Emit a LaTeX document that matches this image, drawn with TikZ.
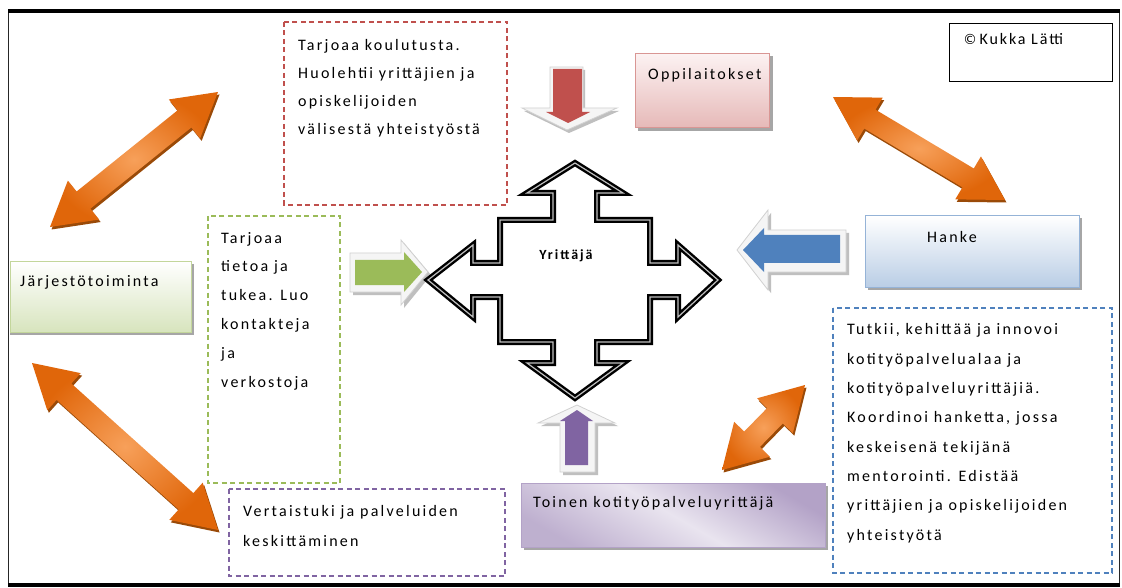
\documentclass[tikz,border=0pt]{standalone}
\usepackage{fontspec}
\setmainfont{Carlito}[LetterSpace=14]
\usetikzlibrary{calc}
\definecolor{redD}{HTML}{C0504D}
\definecolor{greenD}{HTML}{9BBB59}
\definecolor{purpleD}{HTML}{8064A2}
\definecolor{blueD}{HTML}{4F81BD}
\definecolor{orDark}{HTML}{E0660A}
\definecolor{orLight}{HTML}{F7A05A}
\definecolor{orShadow}{HTML}{9A4A08}
\definecolor{pinkTop}{HTML}{FCF2F2}
\definecolor{pinkBot}{HTML}{E6B9B8}
\definecolor{pinkBorder}{HTML}{D99694}
\definecolor{blueTop}{HTML}{FFFFFF}
\definecolor{blueBot}{HTML}{B9CDE5}
\definecolor{blueBorder}{HTML}{95B3D7}
\definecolor{grTop}{HTML}{FFFFFF}
\definecolor{grBot}{HTML}{D7E4BD}
\definecolor{grBorder}{HTML}{C3D69B}
\definecolor{puEdge}{HTML}{B3A2C7}
\definecolor{puMid}{HTML}{E9E4EF}
\newcommand{\dblarr}[3]{%
  \coordinate (#1a) at (#2);
  \coordinate (#1b) at (#3);
  \coordinate (#1ha) at ($(#1a)!43pt!(#1b)$);
  \coordinate (#1hb) at ($(#1b)!43pt!(#1a)$);
  \coordinate (#1p1) at ($(#1ha)!25pt!90:(#1b)$);
  \coordinate (#1p2) at ($(#1ha)!11pt!90:(#1b)$);
  \coordinate (#1p3) at ($(#1hb)!11pt!-90:(#1a)$);
  \coordinate (#1p4) at ($(#1hb)!25pt!-90:(#1a)$);
  \coordinate (#1p5) at ($(#1hb)!25pt!90:(#1a)$);
  \coordinate (#1p6) at ($(#1hb)!11pt!90:(#1a)$);
  \coordinate (#1p7) at ($(#1ha)!11pt!-90:(#1b)$);
  \coordinate (#1p8) at ($(#1ha)!25pt!-90:(#1b)$);
  \fill[orShadow, transform canvas={shift={(1.5pt,-2.5pt)}}]
    (#1a)--(#1p1)--(#1p2)--(#1p3)--(#1p4)--(#1b)--(#1p5)--(#1p6)--(#1p7)--(#1p8)--cycle;
  \shade[inner color=orLight, outer color=orDark]
    (#1a)--(#1p1)--(#1p2)--(#1p3)--(#1p4)--(#1b)--(#1p5)--(#1p6)--(#1p7)--(#1p8)--cycle;
}
\tikzset{
  txt/.style={inner sep=0pt, anchor=base west, align=left, font=\fontsize{16}{#1}\selectfont},
  txt/.default=29,
  dbox/.style={draw=#1, dashed, dash pattern=on 5pt off 3.5pt, line width=1.4pt},
  gbox/.style={draw=#1, line width=1.3pt},
  shadowbox/.style={fill=black!35},
  outl/.style={fill=white!96!black, draw=black!18, line width=0.8pt},
}
\begin{document}
\begin{tikzpicture}[x=1pt,y=-1pt]
\useasboundingbox (0,0) rectangle (1122,588);
% frame
\fill[white] (0,0) rectangle (1122,588);
\draw[line width=1.6pt, black!85] (8.5,11) rectangle (1119.5,585);
\fill[black] (8,9) rectangle (1120,13.5);
\fill[black] (8,582.5) rectangle (1120,587);

% copyright
\draw[line width=0.9pt] (949,23) rectangle (1112,81);
\node[txt] (copy) at (963,45) {\fontspec{DejaVu Sans}[LetterSpace=0]\fontsize{14}{16}\selectfont ©\,\fontspec{Carlito}[LetterSpace=12]\fontsize{16}{19}\selectfont Kukka Lätti};

% dashed boxes (anchor = baseline of last line)
\draw[dbox=redD] (284,22) rectangle (507,205);
\node[txt=28] (redtxt) at (298,135) {Tarjoaa koulutusta.\\Huolehtii yrittäjien ja\\opiskelijoiden\\välisestä yhteistyöstä};

\draw[dbox=greenD] (208,216) rectangle (340,483);
\node[txt=28.8] (grtxt) at (221,387) {Tarjoaa\\tietoa ja\\tukea. Luo\\kontakteja\\ja\\verkostoja};

\draw[dbox=purpleD] (229,489) rectangle (505,576);
\node[txt=30] (putxt) at (243,546) {Vertaistuki ja palveluiden\\keskittäminen};

\draw[dbox=blueD] (833,308) rectangle (1112,573);
\node[txt=29.3] (bltxt) at (847,540) {Tutkii, kehittää ja innovoi\\kotityöpalvelualaa ja\\kotityöpalveluyrittäjiä.\\Koordinoi hanketta, jossa\\keskeisenä tekijänä\\mentorointi. Edistää\\yrittäjien ja opiskelijoiden\\yhteistyötä};

% gradient boxes
\fill[shadowbox] (638,56) rectangle (773,131);
\node[gbox=pinkBorder, top color=pinkTop, bottom color=pinkBot, minimum width=134pt, minimum height=74pt, anchor=north west, inner sep=0pt] (opp) at (635,53) {};
\node[txt] (opptxt) at (648,80) {Oppilaitokset};

\fill[shadowbox] (868,218) rectangle (1082,290);
\node[gbox=blueBorder, top color=blueTop, bottom color=blueBot, minimum width=214pt, minimum height=72pt, anchor=north west, inner sep=0pt] (hanke) at (865,215) {};
\node[txt] (hanketxt) at (927,243) {Hanke};

\fill[shadowbox] (10,264) rectangle (194,335);
\node[gbox=grBorder, top color=grTop, bottom color=grBot, minimum width=181pt, minimum height=71pt, anchor=north west, inner sep=0pt] (jarj) at (10,261) {};
\node[txt] (jarjtxt) at (20,286) {Järjestötoiminta};

\fill[shadowbox] (524,486) rectangle (828,550);
\node[draw=puEdge, line width=1.3pt, left color=puEdge, right color=puEdge!85, middle color=puMid, shading angle=-30, minimum width=304pt, minimum height=64pt, anchor=north west, inner sep=0pt] (toinen) at (521,483) {};
\node[txt] (toinentxt) at (533,507) {Toinen kotityöpalveluyrittäjä};

% block arrows
% red down
\fill[black!25] (552,70)--(585,70)--(585,111)--(619,111)--(569,133)--(524,111)--(552,111)--cycle;
\path[outl] (550,67)--(583,67)--(583,108)--(617,108)--(567,130)--(522,108)--(550,108)--cycle;
\fill[redD] (553,69)--(582,69)--(582,112)--(590,112)--(568,123)--(546,112)--(553,112)--cycle;
% blue left
\fill[black!25] (740,253)--(771,213)--(771,233)--(849,233)--(849,275)--(771,275)--(771,293)--cycle;
\path[outl] (737,250)--(768,210)--(768,230)--(846,230)--(846,272)--(768,272)--(768,290)--cycle;
\fill[blueD] (743,250)--(764,228)--(764,235)--(840,235)--(840,263)--(764,263)--(764,272)--cycle;
% green right
\fill[black!25] (353,256)--(404,256)--(404,243)--(431,275)--(404,308)--(404,295)--(353,295)--cycle;
\path[outl] (350,253)--(401,253)--(401,240)--(428,272)--(401,305)--(401,292)--(350,292)--cycle;
\fill[greenD] (355,260)--(404,260)--(404,252)--(422,272)--(404,292)--(404,285)--(355,285)--cycle;
% purple up
\fill[black!25] (580,408)--(618,426)--(598,426)--(598,475)--(563,475)--(563,426)--(541,426)--cycle;
\path[outl] (577,405)--(615,423)--(595,423)--(595,472)--(560,472)--(560,423)--(538,423)--cycle;
\fill[purpleD] (577,410)--(593,421)--(588,421)--(588,465)--(565,465)--(565,421)--(560,421)--cycle;

% central cross
\def\crosspath{(575,163)--(623,193)--(597,193)--(597,220)--(650,220)--(650,263)--(678,263)--(678,245)--(718,280)--(678,317)--(678,297)--(650,297)--(650,342)--(597,342)--(597,363)--(623,363)--(575,398)--(527,363)--(553,363)--(553,342)--(500,342)--(500,297)--(473,297)--(473,317)--(428,280)--(473,245)--(473,263)--(500,263)--(500,220)--(553,220)--(553,193)--(527,193)--cycle}
\fill[white] \crosspath;
\draw[line width=6pt, line join=miter] \crosspath;
\draw[line width=1.2pt, white!75!black, line join=miter] \crosspath;
\node[inner sep=0pt, anchor=base, font=\bfseries\fontsize{14}{16}\selectfont] (yr) at (566,260) {Yrittäjä};

% orange double arrows
\dblarr{oa}{50,227}{218,92}
\dblarr{ob}{833,97}{1005,200}
\dblarr{oc}{32,363}{218,530}
\dblarr{od}{722,470}{805,385}
\end{tikzpicture}
\end{document}
